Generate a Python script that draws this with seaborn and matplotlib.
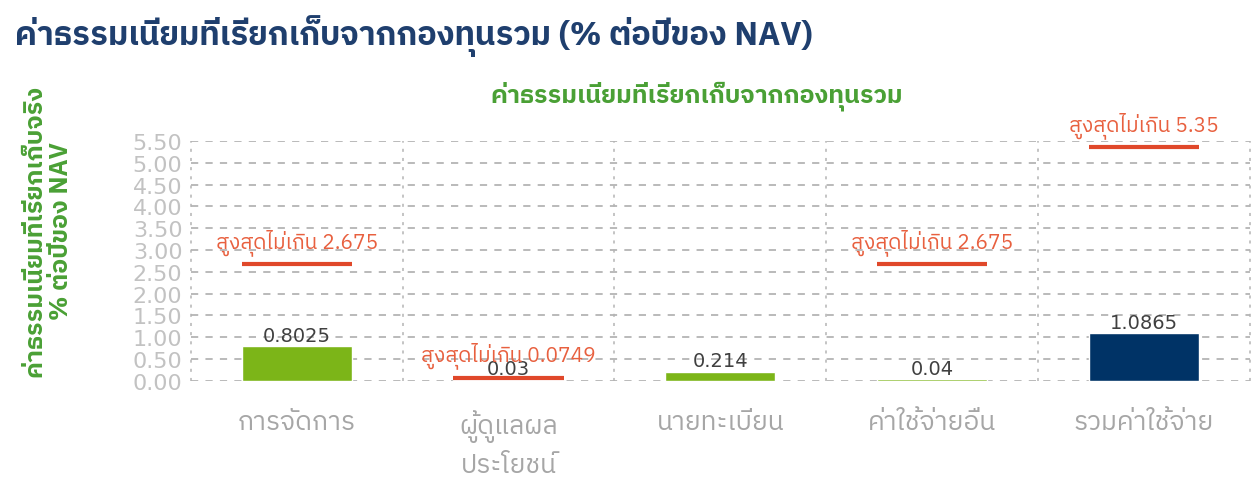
import numpy as np
import pandas as pd
import matplotlib
matplotlib.use("Agg")
import matplotlib.pyplot as plt
import seaborn as sns
from matplotlib import font_manager as fm

# ---------------- data ----------------
categories = ["การจัดการ", "ผู้ดูแลผล\nประโยชน์", "นายทะเบียน", "ค่าใช้จ่ายอื่น", "รวมค่าใช้จ่าย"]
actual_fees = [0.8025, 0.03, 0.214, 0.04, 1.0865]
value_labels = ["0.8025", "0.03", "0.214", "0.04", "1.0865"]
max_fees = [2.675, 0.0749, np.nan, 2.675, 5.35]
max_labels = ["สูงสุดไม่เกิน 2.675", "สูงสุดไม่เกิน 0.0749", "", "สูงสุดไม่เกิน 2.675", "สูงสุดไม่เกิน 5.35"]
bar_colors = ["#7cb518", "#7cb518", "#7cb518", "#7cb518", "#003366"]
y_ticks = [0.0, 0.5, 1.0, 1.5, 2.0, 2.5, 3.0, 3.5, 4.0, 4.5, 5.0, 5.5]

title_text = "ค่าธรรมเนียมที่เรียกเก็บจากกองทุนรวม (% ต่อปีของ NAV)"
subtitle_text = "ค่าธรรมเนียมที่เรียกเก็บจากกองทุนรวม"
ylabel_text = "ค่าธรรมเนียมที่เรียกเก็บจริง\n% ต่อปีของ NAV"

# ---------------- font with Thai glyphs ----------------
def find_thai_fonts():
    names = []
    try:
        from fontTools.ttLib import TTFont
    except Exception:
        return names
    seen = set()
    for f in fm.fontManager.ttflist:
        if f.name in seen:
            continue
        try:
            kw = {"fontNumber": 0} if f.fname.lower().endswith((".ttc", ".otc")) else {}
            tt = TTFont(f.fname, lazy=True, **kw)
            cmap = tt.getBestCmap()
            if cmap and 0x0E01 in cmap and 0x0E48 in cmap:
                names.append(f.name)
                seen.add(f.name)
        except Exception:
            pass
    return names

thai = find_thai_fonts()
def rank(n):
    l = n.lower()
    if "thai" in l and "sans" in l:
        return 0
    if "thai" in l or "loma" in l or "garuda" in l:
        return 1
    if l == "dejavu sans":
        return 2
    if "sans" in l:
        return 3
    return 4
thai_sorted = sorted(thai, key=rank)[:1]
family = thai_sorted + ["DejaVu Sans"]

sns.set_theme(style="white")
plt.rcParams["font.family"] = family

fig = plt.figure(figsize=(12.55, 4.81), dpi=100)
ax = fig.add_axes([0.152, 0.206, 0.844, 0.499])

df = pd.DataFrame({"cat": categories, "val": actual_fees})
sns.barplot(data=df, x="cat", y="val", hue="cat", palette=bar_colors,
            legend=False, width=0.52, ax=ax, zorder=3, saturation=1)

ax.set_ylim(0, 5.5)
ax.set_xlim(-0.5, len(categories) - 0.5)
ax.set_yticks(y_ticks)
ax.set_yticklabels([f"{t:.2f}" for t in y_ticks], color="#c2c2c2", fontsize=16,
                   family=["DejaVu Sans"])
ax.tick_params(axis="y", length=0, pad=6)
ax.tick_params(axis="x", length=0, pad=20, labelsize=19, labelcolor="#a6a6a6")
for lab in ax.get_xticklabels():
    lab.set_linespacing(1.5)
ax.set_xlabel("")
ax.set_ylabel("")

for s in ax.spines.values():
    s.set_visible(False)

# dashed grid
for t in y_ticks:
    ax.axhline(t, color="#b4b4b4", lw=1.3, ls=(0, (4, 4)), zorder=1)
for b in np.arange(-0.5, len(categories), 1.0):
    ax.axvline(b, color="#b4b4b4", lw=1.1, ls=(0, (2, 4)), zorder=1, clip_on=False)

# value labels
for i, (v, lab) in enumerate(zip(actual_fees, value_labels)):
    ax.text(i, v + 0.03, lab, ha="center", va="bottom", fontsize=14,
            color="#404040", zorder=5, family=["DejaVu Sans"])

# maximum lines and labels
half = 0.26
for i, (m, lab) in enumerate(zip(max_fees, max_labels)):
    if np.isnan(m):
        continue
    ax.hlines(m, i - half, i + half, color="#e0482a", lw=3, zorder=4, clip_on=False)
    ax.text(i, m + 0.22, lab, ha="center", va="bottom", fontsize=15,
            color="#e8603f", zorder=5, clip_on=False)

fig.text(0.012, 0.925, title_text, fontsize=23.5, fontweight="bold", color="#1f3f6e",
         ha="left", va="center")
fig.text(0.555, 0.80, subtitle_text, fontsize=18, fontweight="bold", color="#4aa035",
         ha="center", va="center")
fig.text(0.038, 0.52, ylabel_text, fontsize=18, fontweight="bold", color="#4aa035",
         ha="center", va="center", rotation=90, linespacing=1.15, multialignment="center")

fig.savefig("out.png", dpi=100)
